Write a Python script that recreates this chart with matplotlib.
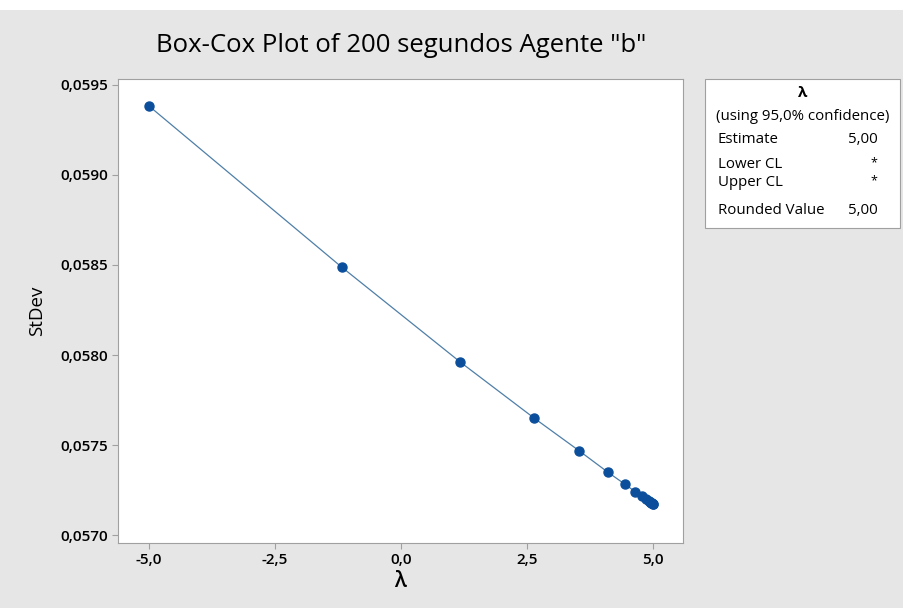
import matplotlib
matplotlib.use("Agg")
import matplotlib.pyplot as plt
from matplotlib.patches import Rectangle
from matplotlib.ticker import FuncFormatter

# Data
lambdas = [-5.00, -1.18, 1.18, 2.64, 3.54, 4.10, 4.44, 4.65, 4.79, 4.87, 4.92, 4.95, 4.97, 4.98, 4.99, 5.00]
stdevs = [0.059383, 0.058489, 0.057960, 0.057650, 0.057467, 0.057350, 0.057283, 0.057240,
          0.057215, 0.057200, 0.057190, 0.057185, 0.057180, 0.057177, 0.057174, 0.057172]
x_ticks = [-5.0, -2.5, 0.0, 2.5, 5.0]
y_ticks = [0.0570, 0.0575, 0.0580, 0.0585, 0.0590, 0.0595]
title = 'Box-Cox Plot of 200 segundos Agente "b"'
legend_rows = [("Estimate", "5,00"), ("Lower CL", "*"), ("Upper CL", "*"), ("Rounded Value", "5,00")]

FONT = ["Open Sans", "DejaVu Sans"]
plt.rcParams['font.family'] = FONT

W, H = 904, 608
BG = "#E6E6E6"
fig = plt.figure(figsize=(W / 100, H / 100), dpi=100, facecolor=BG)

def px(x, y):
    return x / W, 1 - y / H

# white strip at top
fig.patches.append(Rectangle((0, 1 - 10 / H), 1, 10 / H, transform=fig.transFigure,
                             facecolor="white", edgecolor="none", zorder=0))

l, t = px(118, 79)
r, b = px(683, 543)
ax = fig.add_axes([l, b, r - l, t - b])
ax.set_facecolor("white")
ax.plot(lambdas, stdevs, color="#4F7FA8", lw=0.9, zorder=2)
ax.plot(lambdas, stdevs, linestyle="none", marker="o", markersize=6.5,
        color="#0B4F9C", markeredgecolor="#0B4F9C", zorder=3)

ax.set_xlim(-5.615, 5.595)
ax.set_ylim(0.056956, 0.059533)
ax.set_xticks(x_ticks)
ax.set_yticks(y_ticks)
ax.xaxis.set_major_formatter(FuncFormatter(lambda v, p: f"{v:.1f}".replace(".", ",")))
ax.yaxis.set_major_formatter(FuncFormatter(lambda v, p: f"{v:.4f}".replace(".", ",")))
for s in ax.spines.values():
    s.set_color("#A0A0A0")
    s.set_linewidth(0.8)
ax.tick_params(direction="out", length=4, width=0.8, color="#A0A0A0",
               labelsize=11, labelcolor="black", pad=3)
for lab in ax.get_xticklabels() + ax.get_yticklabels():
    lab.set_fontweight("semibold")

ax.set_xlabel("λ", fontsize=15, fontweight="semibold", labelpad=3)
ax.set_ylabel("StDev", fontsize=13.5, fontweight="medium", labelpad=10)

fig.text(*px(401, 46), title, fontsize=18.5, fontweight="medium", ha="center", va="center")

# legend box
lx0, ly0 = px(705, 228)
lx1, ly1 = px(900, 79)
fig.patches.append(Rectangle((lx0, ly0), lx1 - lx0, ly1 - ly0, transform=fig.transFigure,
                             facecolor="white", edgecolor="#A0A0A0", lw=0.8, zorder=1))
fig.text(*px(803, 93), "λ", fontsize=11, fontweight="bold", ha="center", va="center")
fig.text(*px(803, 116), "(using 95,0% confidence)", fontsize=10.8, ha="center", va="center")
ys = [139, 165, 183, 211]
for (name, val), yy in zip(legend_rows, ys):
    fig.text(*px(718, yy), name, fontsize=10.8, ha="left", va="center")
    if val == "*":
        fig.text(*px(877, yy - 2), val, fontsize=9, ha="right", va="center")
    else:
        fig.text(*px(878, yy), val, fontsize=10.8, ha="right", va="center")

fig.savefig("out.png", dpi=100, facecolor=BG)
